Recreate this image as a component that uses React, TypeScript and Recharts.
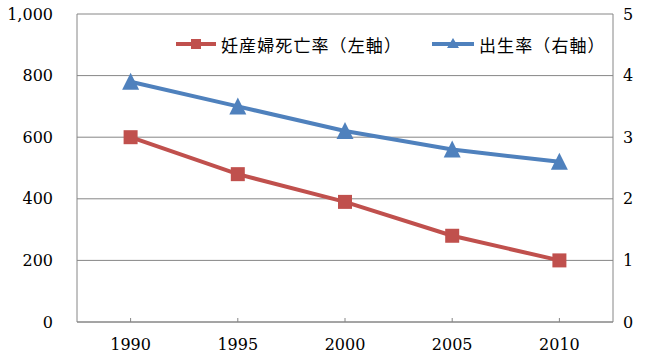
import { LineChart, Line, XAxis, YAxis, CartesianGrid, Legend } from 'recharts';

const years = ['1990', '1995', '2000', '2005', '2010'];
const maternalMortality = [600, 480, 390, 280, 200];
const birthRate = [3.9, 3.5, 3.1, 2.8, 2.6];
const leftTicks = [0, 200, 400, 600, 800, 1000];
const rightTicks = [0, 1, 2, 3, 4, 5];

const RED = '#C0504D';
const BLUE = '#4F81BD';
const GRID = '#868686';
const TICK_FONT = { fontFamily: '"DejaVu Serif", serif', fontSize: 16, fill: '#000' };

const data = years.map((year, i) => ({
  year,
  mmr: maternalMortality[i],
  birth: birthRate[i],
}));

const SquareDot = (props: any) => {
  const { cx, cy } = props;
  return <rect key={`sq-${cx}`} x={cx - 7} y={cy - 7} width={14} height={14} fill={RED} />;
};

const TriangleDot = (props: any) => {
  const { cx, cy } = props;
  return (
    <polygon
      key={`tr-${cx}`}
      points={`${cx},${cy - 9} ${cx - 8.5},${cy + 8} ${cx + 8.5},${cy + 8}`}
      fill={BLUE}
    />
  );
};

const renderLegend = () => {
  const textStyle = { fontFamily: '"Noto Sans CJK JP", sans-serif', fontSize: 17, letterSpacing: 1.1 };
  return (
    <svg width={666} height={26}>
      <line x1={176} y1={12} x2={216} y2={12} stroke={RED} strokeWidth={4} />
      <rect x={191} y={7} width={10} height={10} fill={RED} />
      <text x={221} y={12} dominantBaseline="central" style={textStyle}>
        妊産婦死亡率（左軸）
      </text>
      <line x1={432} y1={12} x2={474} y2={12} stroke={BLUE} strokeWidth={4} />
      <polygon points="453,6 447,16 459,16" fill={BLUE} />
      <text x={479} y={12} dominantBaseline="central" style={textStyle}>
        出生率（右軸）
      </text>
    </svg>
  );
};

export default function App() {
  return (
    <div style={{ width: 666, height: 357, background: '#fff' }}>
      <style>{`body{margin:0}`}</style>
      <LineChart width={666} height={357} data={data} margin={{ top: 14, right: 0, bottom: 0, left: 0 }}>
        <CartesianGrid vertical={false} stroke={GRID} strokeWidth={1} yAxisId="left" />
        <XAxis
          dataKey="year"
          scale="band"
          height={35}
          stroke={GRID}
          tickSize={-4}
          tickMargin={21}
          tick={TICK_FONT}
        />
        <YAxis
          yAxisId="left"
          orientation="left"
          width={77}
          domain={[0, 1000]}
          ticks={leftTicks}
          tickFormatter={(v: number) => v.toLocaleString('en-US')}
          stroke={GRID}
          tickLine={false}
          tickSize={0}
          tickMargin={24}
          tick={TICK_FONT}
        />
        <YAxis
          yAxisId="right"
          orientation="right"
          width={53}
          domain={[0, 5]}
          ticks={rightTicks}
          stroke={GRID}
          tickLine={false}
          tickSize={0}
          tickMargin={10}
          tick={TICK_FONT}
        />
        <Legend
          verticalAlign="middle"
          align="center"
          content={renderLegend}
          wrapperStyle={{ top: 32, left: 0, width: 666 }}
        />
        <Line
          yAxisId="left"
          dataKey="mmr"
          stroke={RED}
          strokeWidth={4}
          dot={SquareDot}
          activeDot={false}
          isAnimationActive={false}
        />
        <Line
          yAxisId="right"
          dataKey="birth"
          stroke={BLUE}
          strokeWidth={4}
          dot={TriangleDot}
          activeDot={false}
          isAnimationActive={false}
        />
      </LineChart>
    </div>
  );
}
